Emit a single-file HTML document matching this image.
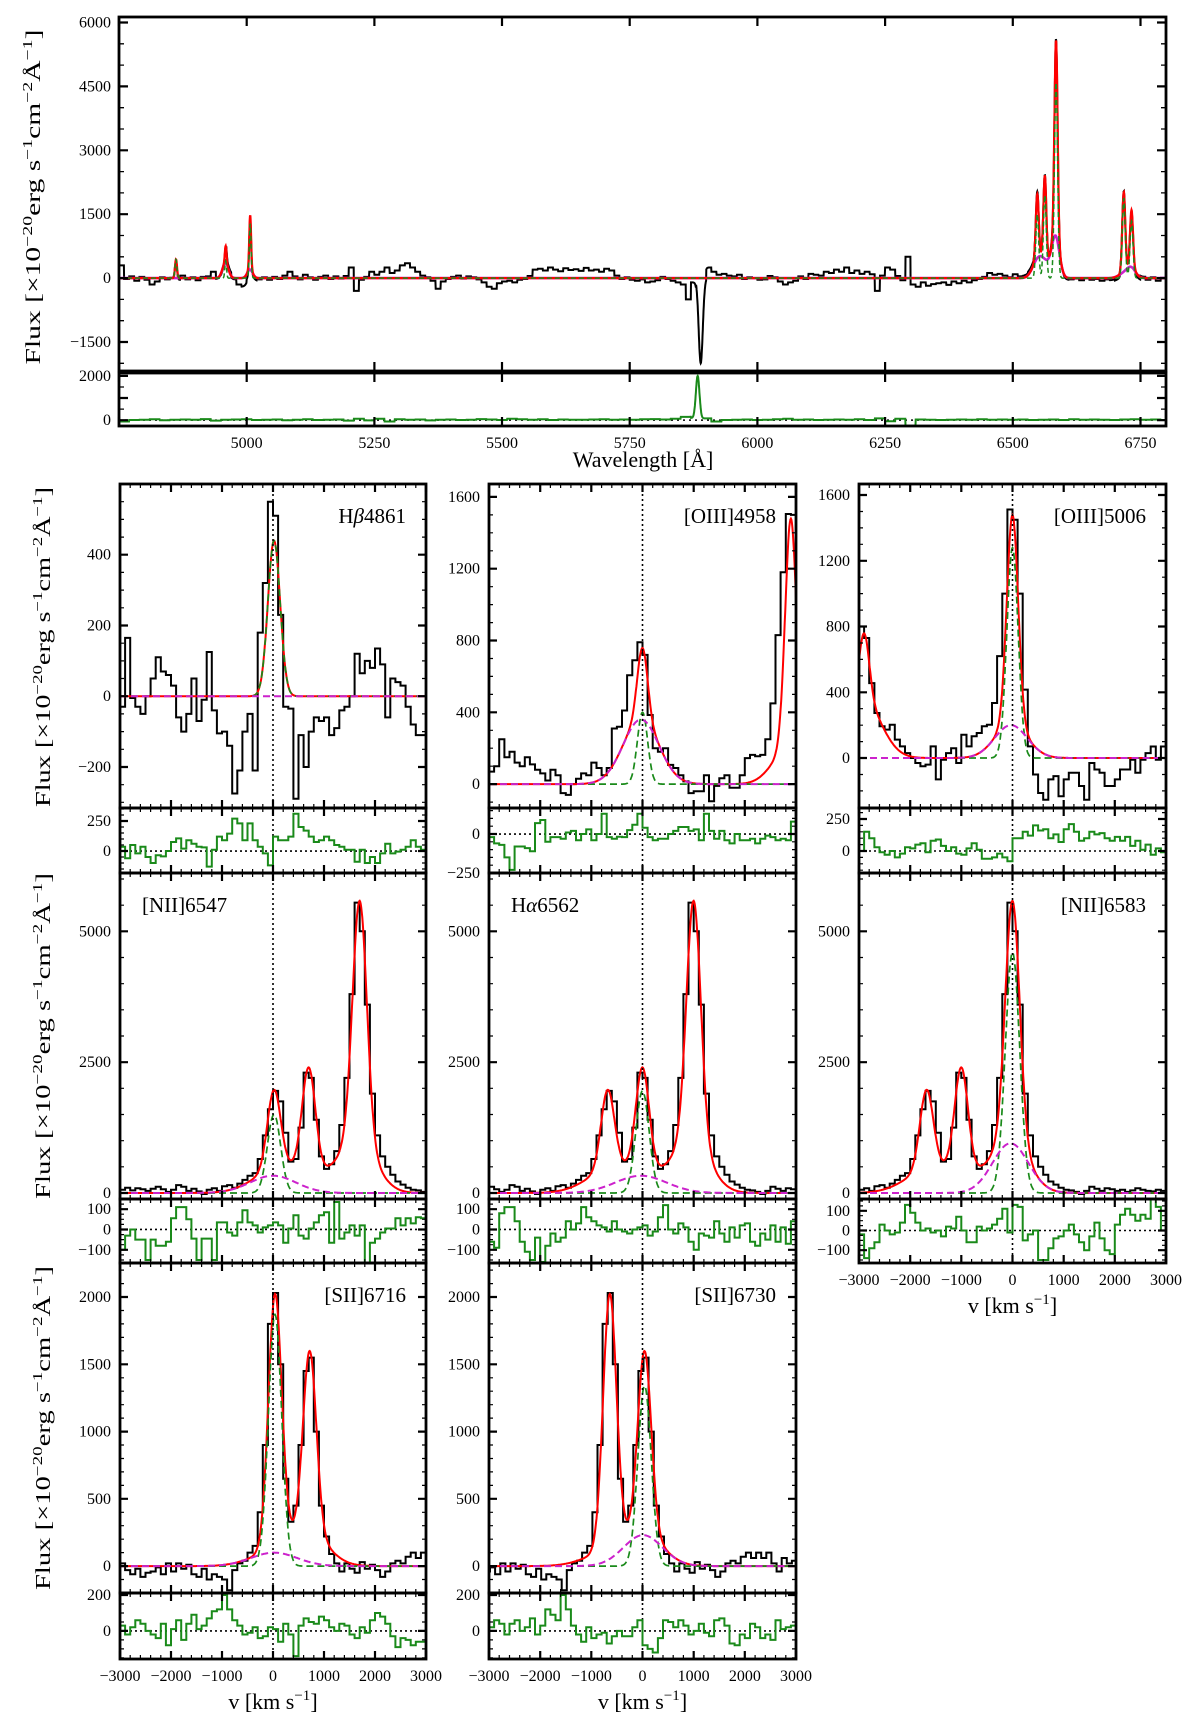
<!DOCTYPE html>
<html><head><meta charset="utf-8">
<style>
body{margin:0;background:#fff}
svg{display:block}
text{font-family:"Liberation Serif",serif;fill:#000}
</style></head>
<body>
<svg id="chart" width="1200" height="1725" viewBox="0 0 1200 1725" xmlns="http://www.w3.org/2000/svg"></svg>
<script>
// ---------------- DATA ----------------
const topContStart = 4750;
const topContStep = 10;
const topCont = [
300,-20,40,-60,30,-40,-150,-80,20,-30,
10,-40,60,-30,20,-50,30,40,150,-20,
-40,80,-30,-150,-200,-120,-60,-30,20,-40,
30,-20,60,150,40,-30,80,20,-40,30,
60,-20,40,-10,50,250,-300,-40,30,150,
80,150,250,120,180,300,350,250,150,60,
20,-60,-250,-80,-20,30,60,-10,40,20,
-30,-100,-200,-250,-120,-80,-60,-100,-40,-20,
50,200,220,180,250,200,160,230,190,210,
170,240,180,200,150,220,180,60,-20,20,
-40,-60,-30,-100,-80,-50,30,-20,-60,-100,
-150,-500,-100,0,0,250,150,80,100,60,
40,80,-20,20,0,-40,-30,50,20,-80,
-150,-100,-60,40,-20,100,80,60,150,120,
200,150,250,120,180,100,150,90,-300,60,
250,200,50,-50,500,-150,-200,-100,-180,-140,
-120,-100,-160,-80,-120,-60,-100,-50,-20,30,
120,80,100,60,20,90,40,50,80,60,
40,20,60,30,-20,-40,-30,-10,-50,0,
-40,-20,-60,-30,-50,-80,20,10,-30,-60,
30,-40,20,-60,10];
const absCenter = [5889];
const absDepth = [-2000];
const absSigma = [4];
const topResStart = 4750;
const topResStep = 20;
const topRes = [
-60,10,20,40,0,20,30,20,50,-20,
20,30,40,10,20,30,0,20,40,10,
20,30,-20,60,-10,60,-60,40,20,30,
-10,20,30,10,20,50,30,10,60,40,
20,40,10,30,20,20,30,40,20,30,
20,40,50,30,60,150,100,80,-60,10,
20,30,10,20,40,60,20,30,10,20,
30,20,40,10,80,-50,60,-250,30,20,
10,20,30,20,40,20,30,20,30,10,
20,30,10,40,20,30,20,10,30,40,
20,30,10];
// residual spike feature (NaD mismatch)
const resSpikeCenter = [5883];
const resSpikeAmp = [1900];
const resSpikeSigma = [3.5];

const regionRef = {hb:4861.3, o3:4958.9, ha:6562.8, s2:6716.4};
const hbCenter=[20,0], hbAmp=[440,0], hbSigma=[120,400], hbKind=['n','b'], hbPane=[0,0];
const o3Center=[0,-30,2900,2870], o3Amp=[400,360,1280,200], o3Sigma=[100,350,110,320], o3Kind=['n','b','n','b'], o3Pane=[0,0,1,1];
const haCenter=[-680,-700,0,-30,1000,960], haAmp=[1500,330,1950,330,4600,950], haSigma=[130,450,130,500,140,350], haKind=['n','b','n','b','n','b'], haPane=[0,0,1,1,2,2];
const s2Center=[40,20,720,690], s2Amp=[1870,100,1340,230], s2Sigma=[130,450,130,380], s2Kind=['n','b','n','b'], s2Pane=[0,0,1,1];

const hbFlux=[-30,165,-5,-30,-50,0,50,110,70,60,30,-60,-100,-50,50,-70,-10,125,-40,-105,-100,-140,-275,-210,-100,-50,-210,180,320,550,510,230,-30,-35,-290,-110,-200,-100,-60,-70,-60,-110,-90,-40,-30,0,120,65,100,80,135,90,-60,50,40,30,-30,-80,-110,-110];
const o3Flux4958=[70,100,250,150,180,120,100,150,110,80,60,20,80,50,-50,-60,0,30,60,50,120,90,50,90,310,320,410,607,690,790,720,385,200,180,200,107,90,50,15,-50,-40,-40,50,-95,-10,33,50,-20,-20,50,145,163,155,163,250,450,830,1180,1505,1500];
const o3Flux5006=[800,730,456,274,193,173,203,112,71,30,0,-30,-50,-40,71,-130,-10,30,60,-30,142,71,132,152,193,203,335,620,1000,1512,1450,1000,416,71,-100,-213,-254,-130,-110,-233,-130,-90,-90,-170,-254,-30,-70,-90,-170,-170,-130,-70,-70,-10,-90,-10,30,70,-10,70];
const haFlux=[60,100,50,90,70,40,80,120,70,20,60,150,120,40,80,30,-20,60,90,40,130,150,100,180,250,330,380,650,1100,1600,1950,1750,1150,600,650,1250,2300,2200,1400,700,460,550,800,1300,2200,3800,5550,5000,3600,1900,1100,700,500,350,220,160,100,60,50,20,-20,40,120,80,40,90,70,40,60,20,50,90,60,40,30,60,40];
const s2Flux=[20,-30,-60,-20,-80,-50,-40,-10,-60,20,-40,20,-20,10,-60,-80,-20,-100,-60,-80,-100,-180,-30,20,40,100,150,400,900,1800,2030,1500,650,330,450,900,1450,1550,1000,450,220,90,20,-40,20,-20,-50,30,-20,10,-30,-80,-40,20,40,20,70,100,60,100,60,100,20,-40,60,20,40];

const hbResid=[36,-60,50,-20,35,-50,-100,-35,-45,0,75,105,20,90,60,35,30,-130,10,120,90,145,270,230,90,230,90,35,-20,-120,120,90,90,120,310,200,170,120,75,90,120,90,50,35,10,10,-90,10,-100,-50,-100,-20,60,-20,-5,10,35,90,35,10];
const o3Resid4958=[-20,-60,-70,-150,-230,-80,-80,-90,-110,70,90,-50,-20,-20,-30,10,20,-40,0,30,-40,0,130,-20,-30,-17,-20,25,60,130,40,-20,-40,-30,-30,0,20,45,45,20,30,-40,130,20,-30,20,-40,-60,0,-40,-40,-30,-60,-30,-10,-20,-40,-30,-40,80];
const o3Resid5006=[0,150,100,30,-10,-30,0,-50,-20,30,20,50,60,-10,80,90,40,0,30,-20,-30,20,60,10,-60,-60,-50,-20,-50,-80,100,100,150,120,200,160,170,100,130,70,170,210,150,80,100,150,130,140,100,80,110,80,110,40,80,10,50,-30,20,-10];
const n1Resid=[-100,-30,0,-50,-50,-150,-50,-80,-80,-60,55,110,110,50,-45,-150,-45,-45,-150,35,35,-15,-30,35,95,35,20,-15,10,20,35,20,-65,5,70,-30,-45,5,35,70,85,-65,135,-45,-15,20,-30,20,-165,-65,-45,-15,5,5,55,20,55,30,60,55];
const haResid=[-60,-90,80,110,110,40,-60,-110,-150,-40,-160,-80,-20,-60,-40,40,0,30,110,60,40,20,10,-10,40,0,-10,-20,0,10,20,-30,-10,60,120,0,-20,30,10,-60,-100,-20,-30,-40,40,-20,-60,10,-40,20,30,-60,-80,-20,-50,20,-60,10,-70,40];
const n2Resid=[-20,-140,-90,-60,30,0,-20,-10,40,130,90,40,0,10,-10,0,-30,20,10,70,0,-60,-60,20,0,10,30,60,110,-10,130,120,-50,-20,0,-150,-150,-90,-40,-30,0,30,-20,-60,-100,-30,40,-40,-100,-120,30,80,110,80,50,80,60,160,120,0];
const s1Resid=[30,-20,20,60,40,0,-20,-40,40,-80,10,60,-50,40,90,10,30,70,110,120,200,120,60,30,-20,-10,20,-40,-30,20,10,-60,40,-20,-140,30,70,50,40,80,60,20,0,40,30,-20,-40,20,-10,60,100,80,40,-30,-90,-40,-50,-80,-60,-60];
const s2Resid=[20,60,40,-20,40,60,0,20,70,-20,30,120,90,60,200,120,30,-20,-60,20,-40,-20,-10,-70,-30,0,-30,-30,20,60,-80,-100,-120,-40,60,50,20,60,30,-20,0,40,-10,-30,60,70,30,-70,-80,-20,-40,40,20,-40,-20,-50,60,10,20,30];

const topXTicks=[5000,5250,5500,5750,6000,6250,6500,6750];
const topYTicks=[-1500,0,1500,3000,4500,6000];
const topRTicks=[0,2000];
const velTicks=[-3000,-2000,-1000,0,1000,2000,3000];

// ---------------- RENDER ----------------
const NS='http://www.w3.org/2000/svg';
const svg=document.getElementById('chart');
const C=299792.458;
const RED='#ff0000', GREEN='#1a8a1a', MAG='#cc22cc';
function mk(tag,attrs,parent){const e=document.createElementNS(NS,tag);for(const k in attrs)e.setAttribute(k,attrs[k]);(parent||svg).appendChild(e);return e;}
function axis(d0,d1,p0,p1){return v=>p0+(v-d0)/(d1-d0)*(p1-p0);}
function fmt(v){return (v<0?'\u2212':'')+Math.abs(v);}
const defs=mk('defs',{});
let clipN=0;
function clip(x0,y0,x1,y1){const id='c'+(clipN++);const cp=mk('clipPath',{id:id},defs);mk('rect',{x:x0,y:y0,width:x1-x0,height:y1-y0},cp);return 'url(#'+id+')';}
function stepD(centers,vals,w,sx,sy){let d='';for(let i=0;i<vals.length;i++){const a=sx(centers[i]-w/2),b=sx(centers[i]+w/2),y=sy(vals[i]).toFixed(1);d+=(i?'L':'M')+a.toFixed(1)+','+y+'L'+b.toFixed(1)+','+y;}return d;}
function gauss(v,c,a,s){return a*Math.exp(-0.5*((v-c)/s)*((v-c)/s));}
function ticksD(x0,x1,y0,y1,sx,sy,xr,yr,xStep,yStep,len){let d='';
 if(xStep){for(let v=Math.ceil(xr[0]/xStep)*xStep;v<=xr[1];v+=xStep){const x=sx(v).toFixed(1);d+=`M${x},${y1}v${-len}M${x},${y0}v${len}`;}}
 if(yStep){for(let v=Math.ceil(yr[0]/yStep)*yStep;v<=yr[1];v+=yStep){const y=sy(v).toFixed(1);d+=`M${x0},${y}h${len}M${x1},${y}h${-len}`;}}
 return d;}
function yLabel(cx,cy,len,name){
 const t=mk('text',{transform:`translate(${cx},${cy}) rotate(-90)`,'text-anchor':'middle','font-size':21,textLength:len,lengthAdjust:'spacingAndGlyphs'});
 
 
 const parts=[['Flux [\u00d710',0],['\u221220',1],['erg s',0],['\u22121',1],['cm',0],['\u22122',1],['\u00c5',0],['\u22121',1],[']',0]];
 let prev=0;
 parts.forEach(p=>{const ts=mk('tspan',{},t);const dy=p[1]?-8:(prev?8:0);if(dy)ts.setAttribute('dy',dy);if(p[1])ts.setAttribute('font-size',14);ts.textContent=p[0];prev=p[1];});
}
function vLabel(cx,y,name){
 const t=mk('text',{x:cx,y:y,'text-anchor':'middle','font-size':22});
 
 
 const a=mk('tspan',{},t);a.textContent='v [km s';
 const b=mk('tspan',{dy:-9,'font-size':15},t);b.textContent='\u22121';
 const c=mk('tspan',{dy:9},t);c.textContent=']';
}

// ===== TOP PANEL =====
(function(){
 const X0=119,X1=1166,MY0=17,MY1=371,RY0=373,RY1=426;
 const xr=[4750,6800], yr=[-2180,6130], rr=[-263,2130];
 const sx=axis(xr[0],xr[1],X0,X1), sy=axis(yr[0],yr[1],MY1,MY0), sr=axis(rr[0],rr[1],RY1,RY0);
 const g=mk('g',{});
 
 
 const cpM=clip(X0,MY0,X1,MY1), cpR=clip(X0,RY0,X1,RY1);
 const regs=[['hb',hbCenter,hbAmp,hbSigma,hbKind],['o3',o3Center,o3Amp,o3Sigma,o3Kind],['ha',haCenter,haAmp,haSigma,haKind],['s2',s2Center,s2Amp,s2Sigma,s2Kind]];
 let dB='',dR='',dN='',dM='',dRes='';
 let i=0;
 for(let L=xr[0];L<=xr[1];L+=0.5,i++){
  let tot=0,nar=0,bro=0;
  regs.forEach(r=>{const ref=regionRef[r[0]];for(let k=0;k<r[1].length;k++){const c=ref*(1+r[1][k]/C),s=ref*r[3][k]/C;const val=gauss(L,c,r[2][k],s);tot+=val;if(r[4][k]==='n')nar+=val;else bro+=val;}});
  let ab=0;for(let k=0;k<absCenter.length;k++)ab+=gauss(L,absCenter[k],absDepth[k],absSigma[k]);
  const ci=Math.min(topCont.length-1,Math.floor((L-topContStart)/topContStep));
  const obs=topCont[ci]+tot+ab;
  const ri=Math.min(topRes.length-1,Math.floor((L-topResStart)/topResStep));
  let rs=topRes[ri];for(let k=0;k<resSpikeCenter.length;k++)rs+=gauss(L,resSpikeCenter[k],resSpikeAmp[k],resSpikeSigma[k]);
  const x=sx(L).toFixed(1),p=(i?'L':'M');
  dB+=p+x+','+sy(obs).toFixed(1);dR+=p+x+','+sy(tot).toFixed(1);dN+=p+x+','+sy(nar).toFixed(1);dM+=p+x+','+sy(bro).toFixed(1);
  dRes+=p+x+','+sr(rs).toFixed(1);
 }
 const pb=mk('path',{d:dB,fill:'none',stroke:'#000','stroke-width':2,'clip-path':cpM},g);
 
 
 const pm=mk('path',{d:dM,fill:'none',stroke:MAG,'stroke-width':2.6,'clip-path':cpM},g);
 
 
 const pr=mk('path',{d:dR,fill:'none',stroke:RED,'stroke-width':2.2,'clip-path':cpM},g);
 
 
 const pn=mk('path',{d:dN,fill:'none',stroke:GREEN,'stroke-width':1.5,'stroke-dasharray':'5,3','clip-path':cpM},g);
 
 
 const z=mk('line',{x1:X0,x2:X1,y1:sr(0),y2:sr(0),stroke:'#000','stroke-width':1.5,'stroke-dasharray':'2,4'},g);
 
 
 const prs=mk('path',{d:dRes,fill:'none',stroke:GREEN,'stroke-width':2,'clip-path':cpR},g);
 
 
 const tk=mk('path',{d:ticksD(X0,X1,MY0,MY1,sx,sy,xr,yr,250,1500,9)+ticksD(X0,X1,RY0,RY1,sx,sr,xr,rr,250,1000,9),stroke:'#000','stroke-width':2.2,fill:'none'},g);
 
 
 const tk2=mk('path',{d:ticksD(X0,X1,MY0,MY1,sx,sy,xr,yr,0,500,5)+ticksD(X0,X1,RY0,RY1,sx,sr,xr,rr,0,500,5),stroke:'#000','stroke-width':1.3,fill:'none'},g);
 
 
 const f1=mk('rect',{x:X0,y:MY0,width:X1-X0,height:MY1-MY0,fill:'none',stroke:'#000','stroke-width':2.8},g);
 
 
 const f2=mk('rect',{x:X0,y:RY0,width:X1-X0,height:RY1-RY0,fill:'none',stroke:'#000','stroke-width':2.8},g);
 
 
 topYTicks.forEach(v=>{const t=mk('text',{x:X0-8,y:sy(v)+5,'text-anchor':'end','font-size':16},g);t.textContent=fmt(v);
  
  });
 topRTicks.forEach(v=>{const t=mk('text',{x:X0-8,y:sr(v)+5,'text-anchor':'end','font-size':16},g);t.textContent=fmt(v);
  
  });
 topXTicks.forEach(v=>{const t=mk('text',{x:sx(v),y:448,'text-anchor':'middle','font-size':16},g);t.textContent=v;
  
  });
 const wl=mk('text',{x:643,y:467,'text-anchor':'middle','font-size':22},g);
 wl.textContent='Wavelength [\u00c5]';
 
 
 yLabel(40,197,335,'y-axis-title');
})();

// ===== LINE PANELS =====
const cols=[[120,426],[489,796],[859,1166]];
const rows=[{m0:484,m1:808,r0:808,r1:873},{m0:873,m1:1199,r0:1199,r1:1263},{m0:1263,m1:1593,r0:1593,r1:1659}];
const regionComps={hb:[hbCenter,hbAmp,hbSigma,hbKind,hbPane],o3:[o3Center,o3Amp,o3Sigma,o3Kind,o3Pane],ha:[haCenter,haAmp,haSigma,haKind,haPane],s2:[s2Center,s2Amp,s2Sigma,s2Kind,s2Pane]};
const panels=[
 {id:'hbeta-4861',lab:['H','\u03b2','4861'],al:'end',col:0,row:0,reg:'hb',off:0,pane:0,flux:hbFlux,fs:-2950,fo:0,res:hbResid,ym:[-316,600],yr:[-183,358],ymt:[-200,0,200,400],ymn:50,yrt:[0,250],yrn:50,xl:false},
 {id:'oiii-4958',lab:['[OIII]4958'],al:'end',col:1,row:0,reg:'o3',off:0,pane:0,flux:o3Flux4958,fs:-2950,fo:0,res:o3Resid4958,ym:[-133,1672],yr:[-250,167],ymt:[0,400,800,1200,1600],ymn:100,yrt:[-250,0],yrn:50,xl:false},
 {id:'oiii-5006',lab:['[OIII]5006'],al:'end',col:2,row:0,reg:'o3',off:-2900,pane:1,flux:o3Flux5006,fs:-2950,fo:0,res:o3Resid5006,ym:[-304,1667],yr:[-172,336],ymt:[0,400,800,1200,1600],ymn:100,yrt:[0,250],yrn:50,xl:false},
 {id:'nii-6547',lab:['[NII]6547'],al:'start',col:0,row:1,reg:'ha',off:700,pane:0,flux:haFlux,fs:-3650,fo:700,res:n1Resid,ym:[-115,6115],yr:[-165,150],ymt:[0,2500,5000],ymn:500,yrt:[-100,0,100],yrn:25,xl:false},
 {id:'halpha-6562',lab:['H','\u03b1','6562'],al:'start',col:1,row:1,reg:'ha',off:0,pane:1,flux:haFlux,fs:-3650,fo:0,res:haResid,ym:[-115,6115],yr:[-165,150],ymt:[0,2500,5000],ymn:500,yrt:[-100,0,100],yrn:25,xl:false},
 {id:'nii-6583',lab:['[NII]6583'],al:'end',col:2,row:1,reg:'ha',off:-1000,pane:2,flux:haFlux,fs:-3650,fo:-1000,res:n2Resid,ym:[-115,6115],yr:[-165,160],ymt:[0,2500,5000],ymn:500,yrt:[-100,0,100],yrn:25,xl:true},
 {id:'sii-6716',lab:['[SII]6716'],al:'end',col:0,row:2,reg:'s2',off:0,pane:0,flux:s2Flux,fs:-2950,fo:0,res:s1Resid,ym:[-200,2253],yr:[-156,211],ymt:[0,500,1000,1500,2000],ymn:100,yrt:[0,200],yrn:50,xl:true},
 {id:'sii-6730',lab:['[SII]6730'],al:'end',col:1,row:2,reg:'s2',off:-680,pane:1,flux:s2Flux,fs:-2950,fo:-680,res:s2Resid,ym:[-200,2253],yr:[-156,211],ymt:[0,500,1000,1500,2000],ymn:100,yrt:[0,200],yrn:50,xl:true}
];
panels.forEach(p=>{
 const [X0,X1]=cols[p.col], R=rows[p.row];
 const sx=axis(-3000,3000,X0,X1), sy=axis(p.ym[0],p.ym[1],R.m1,R.m0), sr=axis(p.yr[0],p.yr[1],R.r1,R.r0);
 const g=mk('g',{});
 
 
 const cpM=clip(X0,R.m0,X1,R.m1), cpR=clip(X0,R.r0,X1,R.r1);
 const cen=p.flux.map((v,k)=>p.fs+100*k+p.fo);
 const ob=mk('path',{d:stepD(cen,p.flux,100,sx,sy),fill:'none',stroke:'#000','stroke-width':2,'clip-path':cpM},g);
 
 
 const cm=regionComps[p.reg];
 let dR='',dN='',dM='',i=0;
 for(let v=-3000;v<=3000;v+=10,i++){
  const vr=v-p.off;let tot=0,nar=0,bro=0;
  for(let k=0;k<cm[0].length;k++){const val=gauss(vr,cm[0][k],cm[1][k],cm[2][k]);tot+=val;if(cm[4][k]===p.pane){if(cm[3][k]==='n')nar+=val;else bro+=val;}}
  const x=sx(v).toFixed(1),q=i?'L':'M';
  dR+=q+x+','+sy(tot).toFixed(1);dN+=q+x+','+sy(nar).toFixed(1);dM+=q+x+','+sy(bro).toFixed(1);
 }
 const mr=mk('path',{d:dR,fill:'none',stroke:RED,'stroke-width':2,'clip-path':cpM},g);
 
 
 const mn=mk('path',{d:dN,fill:'none',stroke:GREEN,'stroke-width':1.7,'stroke-dasharray':'7,4','clip-path':cpM},g);
 
 
 const mb=mk('path',{d:dM,fill:'none',stroke:MAG,'stroke-width':2,'stroke-dasharray':'7,4','clip-path':cpM},g);
 
 
 const vz=mk('line',{x1:sx(0),x2:sx(0),y1:R.m0,y2:R.r1,stroke:'#000','stroke-width':1.6,'stroke-dasharray':'2,3'},g);
 
 
 const hz=mk('line',{x1:X0,x2:X1,y1:sr(0),y2:sr(0),stroke:'#000','stroke-width':1.6,'stroke-dasharray':'2,3'},g);
 
 
 const rc=p.res.map((v,k)=>-2950+100*k);
 const rs=mk('path',{d:stepD(rc,p.res,100,sx,sr),fill:'none',stroke:GREEN,'stroke-width':2,'clip-path':cpR},g);
 
 
 const xr=[-3000,3000];
 const t1=mk('path',{d:ticksD(X0,X1,R.m0,R.m1,sx,sy,xr,p.ym,1000,0,8)+ticksD(X0,X1,R.r0,R.r1,sx,sr,xr,p.yr,1000,0,8)+p.ymt.map(v=>`M${X0},${sy(v).toFixed(1)}h8M${X1},${sy(v).toFixed(1)}h-8`).join('')+p.yrt.map(v=>`M${X0},${sr(v).toFixed(1)}h8M${X1},${sr(v).toFixed(1)}h-8`).join(''),stroke:'#000','stroke-width':2.2,fill:'none'},g);
 
 
 const t2=mk('path',{d:ticksD(X0,X1,R.m0,R.m1,sx,sy,xr,p.ym,200,p.ymn,4)+ticksD(X0,X1,R.r0,R.r1,sx,sr,xr,p.yr,200,p.yrn,4),stroke:'#000','stroke-width':1.2,fill:'none'},g);
 
 
 const fm=mk('rect',{x:X0,y:R.m0,width:X1-X0,height:R.m1-R.m0,fill:'none',stroke:'#000','stroke-width':2.8},g);
 
 
 const fr=mk('rect',{x:X0,y:R.r0,width:X1-X0,height:R.r1-R.r0,fill:'none',stroke:'#000','stroke-width':2.8},g);
 
 
 p.ymt.forEach(v=>{const t=mk('text',{x:X0-9,y:sy(v)+5,'text-anchor':'end','font-size':16},g);t.textContent=fmt(v);
  
  });
 p.yrt.forEach(v=>{const t=mk('text',{x:X0-9,y:sr(v)+5,'text-anchor':'end','font-size':16},g);t.textContent=fmt(v);
  
  });
 if(p.xl){
  const by=R.r1+22;
  velTicks.forEach(v=>{const t=mk('text',{x:sx(v),y:by,'text-anchor':'middle','font-size':16},g);t.textContent=fmt(v);
   
   });
  vLabel((X0+X1)/2,R.r1+50,'x-axis-title');
 }
 const lx=p.al==='end'?X1-20:X0+22;
 const lt=mk('text',{x:lx,y:R.m0+39,'text-anchor':p.al,'font-size':21},g);
 
 
 if(p.lab.length===3){const a=mk('tspan',{},lt);a.textContent=p.lab[0];const b=mk('tspan',{'font-style':'italic'},lt);b.textContent=p.lab[1];const c=mk('tspan',{},lt);c.textContent=p.lab[2];}
 else lt.textContent=p.lab[0];
});
yLabel(50,647,320,'row1-y-axis-title');
yLabel(50,1036,326,'row2-y-axis-title');
yLabel(50,1428,324,'row3-y-axis-title');
</script>
</body></html>
